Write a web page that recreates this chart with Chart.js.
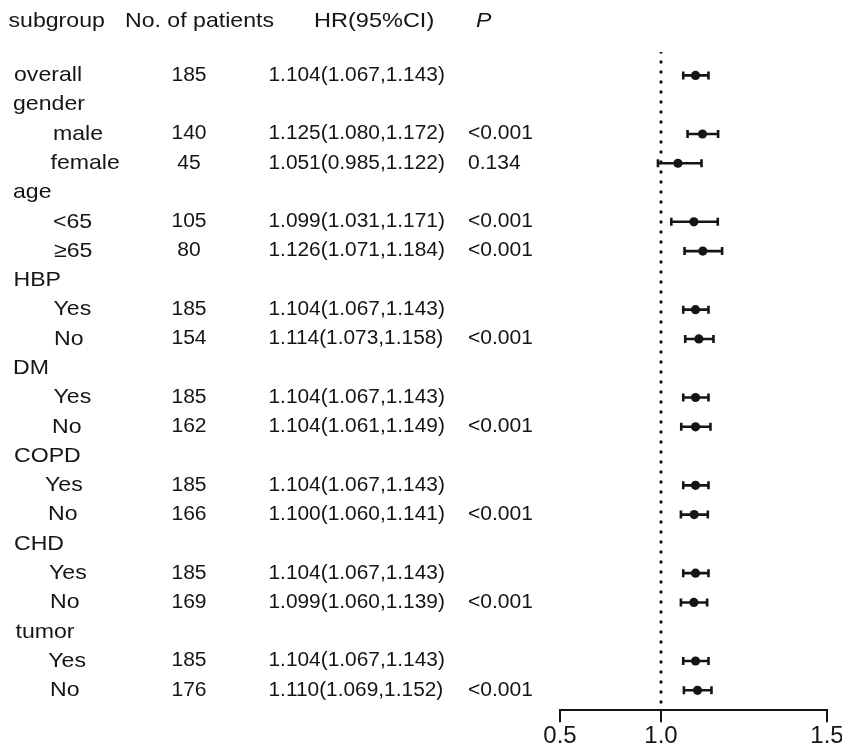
<!DOCTYPE html>
<html>
<head>
<meta charset="utf-8">
<script src="https://cdn.jsdelivr.net/npm/chart.js@4/dist/chart.umd.min.js"></script>
<style>
  html, body { margin: 0; padding: 0; background: #ffffff; }
  #wrap { width: 842px; height: 753px; position: relative; }
</style>
</head>
<body>
<div id="wrap"><canvas id="c" width="842" height="753"></canvas></div>
<script>
// ---------------- data ----------------
const headers   = ['subgroup', 'No. of patients', 'HR(95%CI)', 'P'];
const subgroups = ['overall','gender','male','female','age','<65','≥65','HBP','Yes','No','DM','Yes','No','COPD','Yes','No','CHD','Yes','No','tumor','Yes','No'];
const patients  = [185,null,140,45,null,105,80,null,185,154,null,185,162,null,185,166,null,185,169,null,185,176];
const hr        = [1.104,null,1.125,1.051,null,1.099,1.126,null,1.104,1.114,null,1.104,1.104,null,1.104,1.100,null,1.104,1.099,null,1.104,1.110];
const ciLow     = [1.067,null,1.080,0.985,null,1.031,1.071,null,1.067,1.073,null,1.067,1.061,null,1.067,1.060,null,1.067,1.060,null,1.067,1.069];
const ciHigh    = [1.143,null,1.172,1.122,null,1.171,1.184,null,1.143,1.158,null,1.143,1.149,null,1.143,1.141,null,1.143,1.139,null,1.143,1.152];
const pValues   = ['',null,'<0.001','0.134',null,'<0.001','<0.001',null,'','<0.001',null,'','<0.001',null,'','<0.001',null,'','<0.001',null,'','<0.001'];
const xTicks    = [0.5, 1.0, 1.5];
const refValue  = 1.0;

// ---------------- layout / style ----------------
const INK = '#151515';
const FAMILY = '"Liberation Sans", Arial, Helvetica, sans-serif';
const labelX = [14,13,53,50.5,13,53,54,13.5,53.5,54,13,53.5,52,14,45,48,14,49,50,15.5,48.3,50];
const headerX = [8.5, 125, 314, 476];
const headerY = 21;
const numX = 189, hrX = 268.5, pX = 468;
const SPLIT_FRAC = 101 / 267;   // share of the axis used by 0.5–1.0

// piecewise linear scale: two linear segments joined at the reference value
class SplitScale extends Chart.LinearScale {
  getPixelForValue(v) {
    if (v === null || v === undefined || isNaN(v)) return NaN;
    let dec;
    if (v <= refValue) dec = (v - this.min) / (refValue - this.min) * SPLIT_FRAC;
    else dec = SPLIT_FRAC + (v - refValue) / (this.max - refValue) * (1 - SPLIT_FRAC);
    if (this.options.reverse) dec = 1 - dec;
    return this.getPixelForDecimal(dec);
  }
  getValueForPixel(p) {
    const dec = this.getDecimalForPixel(p);
    if (dec <= SPLIT_FRAC) return this.min + dec / SPLIT_FRAC * (refValue - this.min);
    return refValue + (dec - SPLIT_FRAC) / (1 - SPLIT_FRAC) * (this.max - refValue);
  }
}
SplitScale.id = 'split';
SplitScale.defaults = { ticks: { callback: Chart.Ticks.formatters.numeric } };
Chart.register(SplitScale);

// ---------------- datasets ----------------
const rows = subgroups.map((_, i) => i);
const ciPts = [], capPts = [], dotPts = [];
rows.forEach(i => {
  if (hr[i] === null) return;
  ciPts.push({x: ciLow[i], y: i}, {x: ciHigh[i], y: i}, {x: null, y: null});
  capPts.push({x: ciLow[i], y: i}, {x: ciHigh[i], y: i});
  dotPts.push({x: hr[i], y: i});
});
const yMin = -0.8, yMax = 21.68;

function txt(ctx, s, x, y, font, sx, align) {
  ctx.save();
  ctx.font = font;
  ctx.textAlign = align || 'left';
  ctx.textBaseline = 'middle';
  ctx.translate(x, y);
  ctx.scale(sx, 1);
  ctx.fillText(s, 0, 0);
  ctx.restore();
}

const tablePlugin = {
  id: 'table',
  afterDraw(chart) {
    const ctx = chart.ctx;
    const ys = chart.scales.y;
    ctx.save();
    ctx.fillStyle = INK;
    const headFont = '21px ' + FAMILY;
    txt(ctx, headers[0], headerX[0], headerY, headFont, 1.1);
    txt(ctx, headers[1], headerX[1], headerY, headFont, 1.1);
    txt(ctx, headers[2], headerX[2], headerY, headFont, 1.12);
    txt(ctx, headers[3], headerX[3], headerY, 'italic 21px ' + FAMILY, 1.1);
    const labFont = '21px ' + FAMILY;
    const numFont = '19.5px ' + FAMILY;
    rows.forEach(i => {
      const y = ys.getPixelForValue(i);
      txt(ctx, subgroups[i], labelX[i], y, labFont, 1.1);
      if (patients[i] !== null) txt(ctx, String(patients[i]), numX, y, numFont, 1.08, 'center');
      if (hr[i] !== null) {
        const s = hr[i].toFixed(3) + '(' + ciLow[i].toFixed(3) + ',' + ciHigh[i].toFixed(3) + ')';
        txt(ctx, s, hrX, y, numFont, 1.07);
      }
      if (pValues[i]) txt(ctx, pValues[i], pX, y, numFont, 1.08);
    });
    ctx.restore();
  }
};

new Chart(document.getElementById('c'), {
  type: 'scatter',
  data: {
    datasets: [
      { // reference line at HR = 1
        data: [{x: refValue, y: yMin}, {x: refValue, y: yMax}],
        showLine: true, borderColor: INK, borderWidth: 3.3, borderDash: [0, 10],
        borderCapStyle: 'round', pointRadius: 0, order: 4
      },
      { // confidence intervals
        data: ciPts, showLine: true, spanGaps: false, borderColor: INK, borderWidth: 2.6,
        pointRadius: 0, order: 3
      },
      { // interval caps
        data: capPts, pointStyle: 'line', rotation: 90, pointRadius: 4,
        borderColor: INK, pointBorderWidth: 2.6, order: 2
      },
      { // point estimates
        data: dotPts, pointStyle: 'circle', pointRadius: 4.6, backgroundColor: INK,
        borderColor: INK, pointBorderWidth: 0, order: 1
      }
    ]
  },
  options: {
    responsive: false,
    animation: false,
    events: [],
    layout: { padding: { left: 560, right: 15, top: 52, bottom: 2 } },
    plugins: { legend: { display: false }, tooltip: { enabled: false } },
    scales: {
      x: {
        type: 'split', min: 0.5, max: 1.5, position: 'bottom',
        afterBuildTicks: s => { s.ticks = xTicks.map(v => ({ value: v })); },
        afterFit: s => { s.paddingLeft = 0; s.paddingRight = 0; },
        ticks: {
          callback: v => Number(v).toFixed(1), autoSkip: false, maxRotation: 0,
          font: { size: 24, family: FAMILY }, color: INK, padding: 0
        },
        grid: { drawOnChartArea: false, drawTicks: true, tickLength: 12, color: INK, lineWidth: 2 },
        border: { display: true, color: INK, width: 2 }
      },
      y: { type: 'linear', reverse: true, min: yMin, max: yMax, display: false }
    }
  },
  plugins: [tablePlugin]
});
</script>
</body>
</html>
